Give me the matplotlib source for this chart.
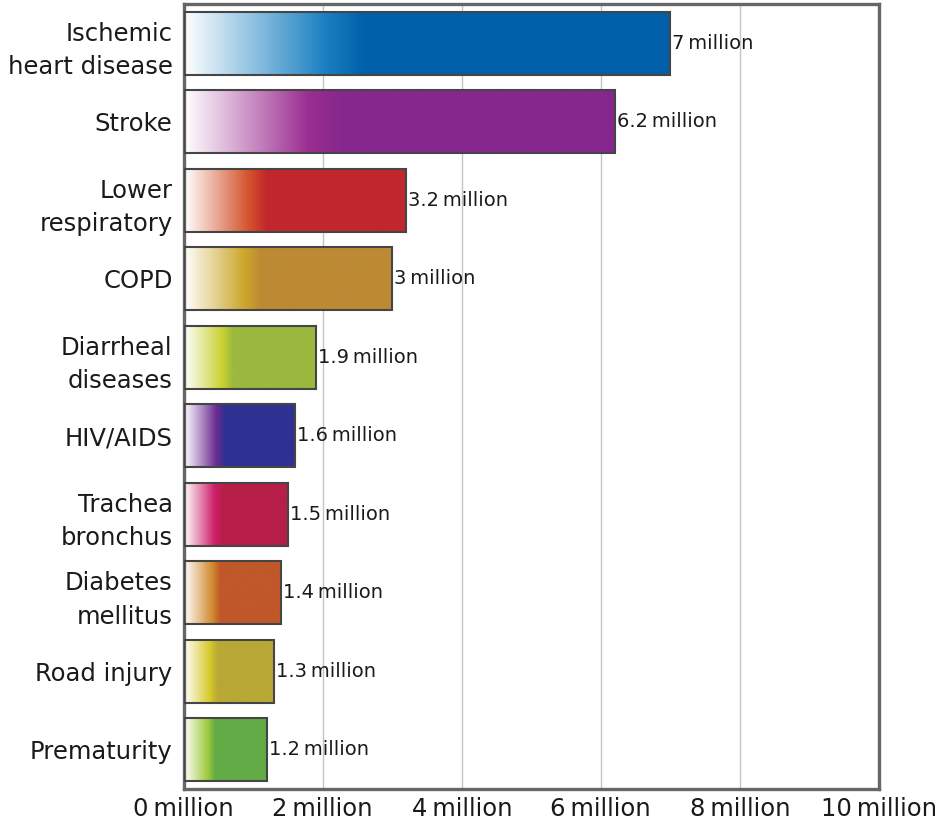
import matplotlib.pyplot as plt
import numpy as np
from matplotlib.colors import LinearSegmentedColormap

# Leading causes of death, deaths per year (millions)
causes = ["Ischemic\nheart disease", "Stroke", "Lower\nrespiratory", "COPD",
          "Diarrheal\ndiseases", "HIV/AIDS", "Trachea\nbronchus", "Diabetes\nmellitus",
          "Road injury", "Prematurity"]
deaths = [7.0, 6.2, 3.2, 3.0, 1.9, 1.6, 1.5, 1.4, 1.3, 1.2]
value_labels = ["7", "6.2", "3.2", "3", "1.9", "1.6", "1.5", "1.4", "1.3", "1.2"]

# main colour of each bar and the brighter tone where the fade ends
base_colors = ["#0060aa", "#86278e", "#c1272d", "#bd8a34", "#9ab93e",
               "#2e3192", "#b71f48", "#c0582a", "#b9a836", "#62ab46"]
accent_colors = ["#1a80c2", "#9a2d90", "#d4532c", "#cca62a", "#c8d132",
                 "#6a2a90", "#cf1f6a", "#d08a30", "#d6c828", "#9cc83a"]

xticks = [0, 2, 4, 6, 8, 10]

fig = plt.figure(figsize=(9.47, 8.26), dpi=100)
ax = fig.add_axes([0.194, 0.045, 0.734, 0.950])

y = np.arange(len(causes))
bars = ax.barh(y, deaths, height=0.8, facecolor="none", edgecolor="#454545",
               linewidth=1.5, zorder=3)

# fill each bar with a white -> accent -> base gradient
grad = np.linspace(0, 1, 256).reshape(1, -1)
for bar, base, accent in zip(bars, base_colors, accent_colors):
    cmap = LinearSegmentedColormap.from_list(
        "fade", [(0, "#ffffff"), (0.29, accent), (0.37, base), (1, base)])
    x0, y0 = bar.get_x(), bar.get_y()
    w, h = bar.get_width(), bar.get_height()
    im = ax.imshow(grad, cmap=cmap, aspect="auto", extent=(x0, x0 + w, y0 + h, y0),
                   interpolation="bicubic", zorder=2)
    im.set_clip_path(bar)

for val, txt, yy in zip(deaths, value_labels, y):
    ax.text(val + 0.03, yy, f"{txt}\u2009million", va="center", ha="left",
            fontsize=14, color="#1a1a1a", zorder=4)

ax.set_xlim(0, 10)
ax.set_ylim(len(causes) - 0.5, -0.5)
ax.set_yticks(y)
ax.set_yticklabels(causes, fontsize=17.5, color="#1a1a1a", linespacing=1.5)
ax.set_xticks(xticks)
ax.set_xticklabels([f"{t}\u2009million" for t in xticks], fontsize=17.5, color="#1a1a1a")
ax.tick_params(length=0, pad=6)
ax.tick_params(axis="y", pad=8)

ax.xaxis.grid(True, color="#c4c4c4", linewidth=1.0, zorder=0)
ax.set_axisbelow(True)
for spine in ax.spines.values():
    spine.set_color("#666666")
    spine.set_linewidth(2.4)

fig.savefig("out.png", dpi=100)
